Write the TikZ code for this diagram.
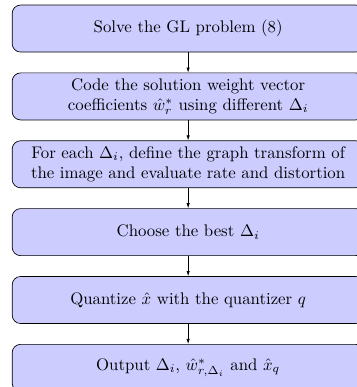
\documentclass[tikz,border=0pt]{standalone}
\usepackage{amsmath}
\usepackage{amsfonts}
\usepackage{tikz}
\usetikzlibrary{positioning,arrows.meta}

\begin{document}
\begin{tikzpicture}[x=1pt, y=1pt,
    stepbox/.style={draw, rounded corners=5pt, fill=blue!20,
        minimum width=209.5pt, minimum height=28pt,
        text width=200pt, align=center, inner sep=2pt},
    node distance=12pt]

    % Frame (the right and bottom of the boxes are cut)
    \useasboundingbox (0,0) rectangle (212.5,-230.4);

    % Steps
    \node[stepbox] (solve) at (112,-17) {Solve the GL problem (8)};
    \node[stepbox, below=of solve] (code) {Code the solution weight vector\\
        coefficients $\hat{w}_r^*$ using different $\Delta_i$};
    \node[stepbox, below=of code] (evaluate) {For each $\Delta_i$, define the graph transform of the image and evaluate rate and distortion};
    \node[stepbox, below=of evaluate] (choose) {Choose the best $\Delta_i$};
    \node[stepbox, below=of choose] (quantize) {Quantize $\hat{x}$ with the quantizer $q$};
    \node[stepbox, below=of quantize] (output) {Output $\Delta_i$, $\hat{w}_{r,\Delta_i}^*$ and $\hat{x}_q$};

    % Arrows
    \draw[-{Latex[length=3pt, width=2pt]}] (solve) -- (code);
    \draw[-{Latex[length=3pt, width=2pt]}] (code) -- (evaluate);
    \draw[-{Latex[length=3pt, width=2pt]}] (evaluate) -- (choose);
    \draw[-{Latex[length=3pt, width=2pt]}] (choose) -- (quantize);
    \draw[-{Latex[length=3pt, width=2pt]}] (quantize) -- (output);

\end{tikzpicture}
\end{document}
